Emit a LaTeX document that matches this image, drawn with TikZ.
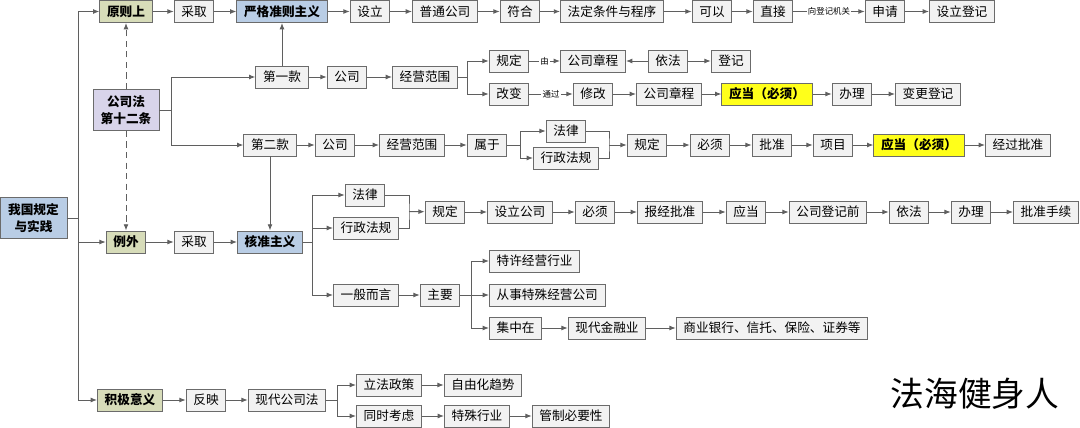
\documentclass[tikz,border=0pt]{standalone}
\usepackage{fontspec}
\setmainfont{Noto Sans CJK SC}
\usetikzlibrary{arrows.meta}
\definecolor{boxline}{HTML}{6B6B6B}
\definecolor{boxfill}{HTML}{F2F2F2}
\definecolor{linegray}{HTML}{5F5F5F}
\definecolor{olivefill}{HTML}{D7DCB9}
\definecolor{bluefill}{HTML}{B9CDE5}
\definecolor{lilacfill}{HTML}{D8D4EA}
\definecolor{yellowfill}{HTML}{FFFF1A}

\begin{document}
\begin{tikzpicture}[
    x=0.025cm, y=-0.025cm,
    box/.style={rectangle, draw=boxline, fill=boxfill, line width=0.6pt,
        minimum height=0.55cm, inner xsep=0.18cm, inner ysep=0pt,
        font=\fontsize{9}{11}\selectfont},
    principle/.style={box, fill=olivefill, font=\fontsize{9}{11}\selectfont\bfseries},
    doctrine/.style={box, fill=bluefill, font=\fontsize{9}{11}\selectfont\bfseries},
    article/.style={box, fill=lilacfill, align=center, minimum width=1.65cm,
        minimum height=1.025cm, font=\fontsize{9}{12}\selectfont\bfseries},
    must/.style={box, fill=yellowfill, font=\fontsize{9}{11}\selectfont\bfseries},
    flow/.style={draw=linegray, line width=0.7pt, -{Latex[length=4.5pt,width=3.5pt]}},
    link/.style={draw=linegray, line width=0.7pt},
    dashlink/.style={flow, dash pattern=on 4.5pt off 3pt},
    via/.style={fill=white, inner sep=0.8pt, font=\fontsize{6}{7}\selectfont}
]
\useasboundingbox (0,0) rectangle (1080,428);

\node (Root) [doctrine, align=center, minimum width=1.675cm, minimum height=1.025cm,
    font=\fontsize{9}{12}\selectfont\bfseries] at (33.5,218) {我国规定\\与实践};

\node (Yuanze) [principle] at (126,11.5) {原则上};
\node (Caiqu01) [box] at (194,11.5) {采取};
\node (Yange) [doctrine] at (282,11.5) {严格准则主义};
\node (Sheli) [box] at (370,11.5) {设立};
\node (Putong) [box] at (445,11.5) {普通公司};
\node (Fuhe) [box] at (520,11.5) {符合};
\node (Fading) [box] at (612,11.5) {法定条件与程序};
\node (Keyi) [box] at (712,11.5) {可以};
\node (Zhijie) [box] at (773,11.5) {直接};
\node (Shenqing) [box] at (885,11.5) {申请};
\node (SheliDengji) [box] at (962,11.5) {设立登记};

\node (Gongsifa) [article] at (126,110) {公司法\\第十二条};

\node (Diyi) [box] at (282,77) {第一款};
\node (Gongsi01) [box] at (347,77) {公司};
\node (Jingying01) [box] at (425,77) {经营范围};
\node (Guiding01) [box] at (509,61) {规定};
\node (Zhangcheng01) [box] at (593,61) {公司章程};
\node (Yifa01) [box] at (668,61) {依法};
\node (Dengji01) [box] at (731,61) {登记};
\node (Gaibian) [box] at (509,94) {改变};
\node (Xiugai) [box] at (593,94) {修改};
\node (Zhangcheng02) [box] at (669,94) {公司章程};
\node (Yingdang01) [must] at (767,94) {应当（必须）};
\node (Banli01) [box] at (852,94) {办理};
\node (Biangeng) [box] at (928,94) {变更登记};

\node (Dier) [box] at (270,145) {第二款};
\node (Gongsi02) [box] at (335,145) {公司};
\node (Jingying02) [box] at (412,145) {经营范围};
\node (Shuyu) [box] at (487,145) {属于};
\node (Falv01) [box] at (566,131) {法律};
\node (Xingzheng01) [box] at (566,158) {行政法规};
\node (Guiding02) [box] at (647,145) {规定};
\node (Bixu01) [box] at (710,145) {必须};
\node (Pizhun) [box] at (772,145) {批准};
\node (Xiangmu) [box] at (833,145) {项目};
\node (Yingdang02) [must] at (919,145) {应当（必须）};
\node (Jingguo) [box] at (1018,145) {经过批准};

\node (Liwai) [principle] at (126,242) {例外};
\node (Caiqu02) [box] at (194,242) {采取};
\node (Hezhun) [doctrine] at (270,242) {核准主义};
\node (Falv02) [box] at (365,195) {法律};
\node (Xingzheng02) [box] at (366,228) {行政法规};
\node (Guiding03) [box] at (445,212) {规定};
\node (SheliGongsi) [box] at (520,212) {设立公司};
\node (Bixu02) [box] at (595,212) {必须};
\node (Baojing) [box] at (670,212) {报经批准};
\node (Yingdang03) [box] at (746,212) {应当};
\node (Dengjiqian) [box] at (828,212) {公司登记前};
\node (Yifa02) [box] at (909,212) {依法};
\node (Banli02) [box] at (971,212) {办理};
\node (Shouxu) [box] at (1046,212) {批准手续};

\node (Yiban) [box] at (366,295) {一般而言};
\node (Zhuyao) [box] at (440,295) {主要};
\node (Texu) [box, anchor=west] at (489,261) {特许经营行业};
\node (Congshi) [box, anchor=west] at (489,295) {从事特殊经营公司};
\node (Jizhong) [box, anchor=west] at (489,328) {集中在};
\node (Jinrong) [box] at (607,328) {现代金融业};
\node (Shangye) [box] at (772,328) {商业银行、信托、保险、证券等};

\node (Jiji) [principle] at (130,400) {积极意义};
\node (Fanying) [box] at (206,400) {反映};
\node (Xiandai) [box] at (287,400) {现代公司法};
\node (Lifa) [box] at (389,385) {立法政策};
\node (Ziyou) [box] at (483,385) {自由化趋势};
\node (Tongshi) [box] at (389,416) {同时考虑};
\node (Teshu) [box] at (477,416) {特殊行业};
\node (Guanzhi) [box] at (571,416) {管制必要性};

\node (Mark) at (975,394) {\fontsize{24}{28}\selectfont 法海健身人};

\draw[link] (Root.east) -- ++(11,0) coordinate (Trunk);
\draw[flow] (Trunk) |- (Yuanze);
\draw[flow] (Trunk) -- (Trunk |- Liwai) -- (Liwai);
\draw[flow] (Trunk) |- (Jiji);

\draw[flow] (Yuanze) -- (Caiqu01);
\draw[flow] (Caiqu01) -- (Yange);
\draw[flow] (Yange) -- (Sheli);
\draw[flow] (Sheli) -- (Putong);
\draw[flow] (Putong) -- (Fuhe);
\draw[flow] (Fuhe) -- (Fading);
\draw[flow] (Fading) -- (Keyi);
\draw[flow] (Keyi) -- (Zhijie);
\draw[flow] (Zhijie) -- node[via] {向登记机关} (Shenqing);
\draw[flow] (Shenqing) -- (SheliDengji);

\draw[dashlink] (Gongsifa) -- (Yuanze);
\draw[dashlink] (Gongsifa) -- (Liwai);
\draw[link] (Gongsifa.east) -- ++(12,0) coordinate (Split01);
\draw[flow] (Split01) |- (Diyi);
\draw[flow] (Split01) |- (Dier);

\draw[flow] (Diyi) -- (Yange);
\draw[flow] (Diyi) -- (Gongsi01);
\draw[flow] (Gongsi01) -- (Jingying01);
\draw[link] (Jingying01.east) -- ++(10,0) coordinate (Split02);
\draw[flow] (Split02) |- (Guiding01);
\draw[flow] (Split02) |- (Gaibian);
\draw[flow] (Guiding01) -- node[via] {由} (Zhangcheng01);
\draw[flow] (Yifa01) -- (Zhangcheng01);
\draw[flow] (Yifa01) -- (Dengji01);
\draw[flow] (Gaibian) -- node[via] {通过} (Xiugai);
\draw[flow] (Xiugai) -- (Zhangcheng02);
\draw[flow] (Zhangcheng02) -- (Yingdang01);
\draw[flow] (Yingdang01) -- (Banli01);
\draw[flow] (Banli01) -- (Biangeng);

\draw[flow] (Dier) -- (Hezhun);
\draw[flow] (Dier) -- (Gongsi02);
\draw[flow] (Gongsi02) -- (Jingying02);
\draw[flow] (Jingying02) -- (Shuyu);
\draw[link] (Shuyu.east) -- ++(13,0) coordinate (Split03);
\draw[flow] (Split03) |- (Falv01);
\draw[flow] (Split03) |- (Xingzheng01);
\coordinate (Merge01) at (609,145);
\draw[link] (Falv01.east) -| (Merge01) |- (Xingzheng01.east);
\draw[flow] (Merge01) -- (Guiding02);
\draw[flow] (Guiding02) -- (Bixu01);
\draw[flow] (Bixu01) -- (Pizhun);
\draw[flow] (Pizhun) -- (Xiangmu);
\draw[flow] (Xiangmu) -- (Yingdang02);
\draw[flow] (Yingdang02) -- (Jingguo);

\draw[flow] (Liwai) -- (Caiqu02);
\draw[flow] (Caiqu02) -- (Hezhun);
\draw[link] (Hezhun.east) -- ++(10,0) coordinate (Split04);
\draw[flow] (Split04) |- (Falv02);
\draw[flow] (Split04) |- (Xingzheng02);
\draw[flow] (Split04) |- (Yiban);
\coordinate (Merge02) at (409,211.5);
\draw[link] (Falv02.east) -| (Merge02) |- (Xingzheng02.east);
\draw[flow] (Merge02) -- (Guiding03);
\draw[flow] (Guiding03) -- (SheliGongsi);
\draw[flow] (SheliGongsi) -- (Bixu02);
\draw[flow] (Bixu02) -- (Baojing);
\draw[flow] (Baojing) -- (Yingdang03);
\draw[flow] (Yingdang03) -- (Dengjiqian);
\draw[flow] (Dengjiqian) -- (Yifa02);
\draw[flow] (Yifa02) -- (Banli02);
\draw[flow] (Banli02) -- (Shouxu);

\draw[flow] (Yiban) -- (Zhuyao);
\draw[link] (Zhuyao.east) -- ++(11,0) coordinate (Split05);
\draw[flow] (Split05) |- (Texu);
\draw[flow] (Split05) -- (Congshi);
\draw[flow] (Split05) |- (Jizhong);
\draw[flow] (Jizhong) -- (Jinrong);
\draw[flow] (Jinrong) -- (Shangye);

\draw[flow] (Jiji) -- (Fanying);
\draw[flow] (Fanying) -- (Xiandai);
\draw[link] (Xiandai.east) -- ++(11,0) coordinate (Split06);
\draw[flow] (Split06) |- (Lifa);
\draw[flow] (Split06) |- (Tongshi);
\draw[flow] (Lifa) -- (Ziyou);
\draw[flow] (Tongshi) -- (Teshu);
\draw[flow] (Teshu) -- (Guanzhi);

\end{tikzpicture}
\end{document}
